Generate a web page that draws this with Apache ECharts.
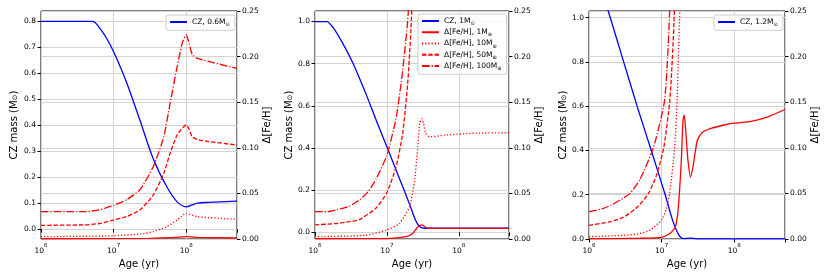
<!DOCTYPE html>
<html>
<head>
<meta charset="utf-8">
<script src="https://cdn.jsdelivr.net/npm/echarts@6/dist/echarts.min.js"></script>
<style>
html,body{margin:0;padding:0;background:#fff;}
#c{width:830px;height:277px;}
</style>
</head>
<body>
<div id="c"></div>
<script>
// ---------------- DATA (age in yr, value) ----------------
// Panel 1: 0.6 Msun
const p1_cz_age = [1e6, 5e6, 5.6e6, 6.4e6, 8e6, 1e7, 1.5e7, 2.3e7, 3.5e7, 5.4e7, 7.5e7, 1e8, 1.2e8, 1.43e8, 2e8, 5e8];
const p1_cz_val = [0.8, 0.8, 0.795, 0.775, 0.735, 0.683, 0.567, 0.42, 0.272, 0.163, 0.105, 0.086, 0.093, 0.100, 0.103, 0.108];
const p1_100_age = [1e6, 4e6, 6.4e6, 1e7, 1.5e7, 2.3e7, 3.5e7, 4.9e7, 6e7, 7.5e7, 8.8e7, 1e8, 1.1e8, 1.21e8, 1.43e8, 5e8];
const p1_100_val = [0.030, 0.030, 0.032, 0.037, 0.043, 0.054, 0.079, 0.112, 0.149, 0.189, 0.2146, 0.2237, 0.214, 0.202, 0.198, 0.187];
const p1_50_age = [1e6, 4e6, 6.4e6, 1e7, 1.5e7, 2.3e7, 3.5e7, 4.9e7, 6e7, 7.5e7, 1e8, 1.1e8, 1.21e8, 1.5e8, 5e8];
const p1_50_val = [0.015, 0.0155, 0.017, 0.0208, 0.0245, 0.0318, 0.048, 0.072, 0.094, 0.114, 0.125, 0.120, 0.112, 0.1085, 0.103];
const p1_10_age = [1e6, 1e7, 2.3e7, 3.5e7, 5.4e7, 7.5e7, 1e8, 1.43e8, 5e8];
const p1_10_val = [0.0025, 0.0035, 0.0055, 0.008, 0.0135, 0.0208, 0.028, 0.0245, 0.0216];
const p1_1_age = [1e6, 3e7, 6e7, 1e8, 1.5e8, 5e8];
const p1_1_val = [0.0003, 0.0006, 0.0015, 0.0025, 0.0018, 0.0011];

// Panel 2: 1 Msun
const p2_cz_age = [1e6, 1.45e6, 1.8e6, 2.4e6, 3.4e6, 5e6, 7.1e6, 1e7, 1.49e7, 2.05e7, 2.5e7, 2.8e7, 3.2e7, 3.6e7, 5e8];
const p2_cz_val = [1.0, 1.0, 0.97, 0.90, 0.80, 0.665, 0.532, 0.406, 0.256, 0.137, 0.058, 0.03, 0.02, 0.019, 0.019];
const p2_100_age = [1e6, 1.5e6, 2e6, 3e6, 4.2e6, 5.5e6, 7.1e6, 1e7, 1.34e7, 1.66e7, 1.95e7, 2.2e7];
const p2_100_val = [0.030, 0.030, 0.032, 0.036, 0.043, 0.052, 0.066, 0.092, 0.132, 0.185, 0.24, 0.31];
const p2_50_age = [1e6, 2e6, 3e6, 4.2e6, 7.1e6, 1e7, 1.34e7, 1.66e7, 1.95e7, 2.16e7, 2.3e7];
const p2_50_val = [0.0155, 0.017, 0.019, 0.0215, 0.034, 0.051, 0.079, 0.116, 0.171, 0.229, 0.28];
const p2_10_age = [1e6, 5e6, 1e7, 1.49e7, 2.05e7, 2.4e7, 2.67e7, 2.87e7, 3.06e7, 3.25e7, 3.47e7, 3.95e7, 6.6e7, 1.7e8, 5e8];
const p2_10_val = [0.0025, 0.004, 0.0099, 0.017, 0.035, 0.061, 0.0976, 0.127, 0.132, 0.126, 0.116, 0.112, 0.114, 0.116, 0.1165];
const p2_1_age = [1e6, 1e7, 1.85e7, 2.28e7, 2.67e7, 3.06e7, 3.47e7, 4e7, 5e8];
const p2_1_val = [0.0003, 0.0005, 0.0025, 0.006, 0.0128, 0.0154, 0.0128, 0.0118, 0.0117];

// Panel 3: 1.2 Msun
const p3_cz_age = [1e6, 1.84e6, 3e6, 4.6e6, 7.2e6, 1.12e7, 1.4e7, 1.6e7, 1.8e7, 2e7, 2.5e7, 3e7, 5e8];
const p3_cz_val = [1.30, 1.03, 0.80, 0.60, 0.40, 0.20, 0.09, 0.04, 0.01, 0.002, 0.004, 0.001, 0.001];
const p3_100_age = [1e6, 1.5e6, 2e6, 3e6, 3.67e6, 5e6, 7.7e6, 1.09e7, 1.21e7, 1.29e7, 1.4e7];
const p3_100_val = [0.030, 0.033, 0.037, 0.045, 0.05, 0.065, 0.10, 0.15, 0.20, 0.25, 0.32];
const p3_50_age = [1e6, 2e6, 3e6, 4.5e6, 6.6e6, 8.5e6, 1.07e7, 1.29e7, 1.41e7, 1.5e7, 1.6e7];
const p3_50_val = [0.015, 0.019, 0.024, 0.034, 0.05, 0.07, 0.10, 0.15, 0.20, 0.25, 0.31];
const p3_10_age = [1e6, 3e6, 5e6, 7e6, 1e7, 1.15e7, 1.29e7, 1.51e7, 1.63e7, 1.7e7, 1.78e7, 1.9e7];
const p3_10_val = [0.0026, 0.004, 0.006, 0.010, 0.021, 0.032, 0.05, 0.10, 0.15, 0.20, 0.25, 0.32];
const p3_1_age = [1e6, 5e6, 1e7, 1.3e7, 1.55e7, 1.7e7, 1.87e7, 1.97e7, 2.05e7, 2.16e7, 2.3e7, 2.5e7, 2.7e7, 3.1e7, 3.6e7, 4.7e7, 7.2e7, 1e8, 1.7e8, 2.9e8, 5e8];
const p3_1_val = [0.0003, 0.0008, 0.0018, 0.006, 0.0135, 0.035, 0.087, 0.13, 0.136, 0.116, 0.087, 0.068, 0.079, 0.108, 0.1166, 0.121, 0.125, 0.127, 0.129, 0.134, 0.142];

// Tick / label texts
const czNames = ['CZ, 0.6M⊙', 'CZ, 1M⊙', 'CZ, 1.2M⊙'];
const feNames = ['Δ[Fe/H], 1M⊕', 'Δ[Fe/H], 10M⊕', 'Δ[Fe/H], 50M⊕', 'Δ[Fe/H], 100M⊕'];
const leftRanges = [[-0.038, 0.84], [-0.032, 1.05], [0, 1.03]];
const rightRange = [0, 0.25];
const ageRange = [1e6, 5e8];

// ---------------- BUILD ----------------
const zip = (a, b) => a.map((x, i) => [x, b[i]]);
const panels = [
  {cz: zip(p1_cz_age, p1_cz_val), fe: [zip(p1_1_age, p1_1_val), zip(p1_10_age, p1_10_val), zip(p1_50_age, p1_50_val), zip(p1_100_age, p1_100_val)]},
  {cz: zip(p2_cz_age, p2_cz_val), fe: [zip(p2_1_age, p2_1_val), zip(p2_10_age, p2_10_val), zip(p2_50_age, p2_50_val), zip(p2_100_age, p2_100_val)]},
  {cz: zip(p3_cz_age, p3_cz_val), fe: [zip(p3_1_age, p3_1_val), zip(p3_10_age, p3_10_val), zip(p3_50_age, p3_50_val), zip(p3_100_age, p3_100_val)]}
];

const FONT = 'DejaVu Sans';
const gridPos = [{left: 41, width: 196}, {left: 315, width: 194}, {left: 589, width: 196}];
const leftNameGap = [22, 15, 19];
const leftSplit = [9, 5, 5];
const dashTypes = ['solid', [1.2, 2.0], [4.4, 1.9], [7.7, 1.9, 1.2, 1.9]];
const gridColor = '#d3d3d3';

const grids = [], xAxes = [], yAxes = [], series = [], legends = [];
const supRich = {
  b: {fontSize: 7.5, fontFamily: FONT, color: '#000', lineHeight: 12, verticalAlign: 'bottom'},
  s: {fontSize: 5.5, fontFamily: FONT, color: '#000', lineHeight: 7, verticalAlign: 'top'}
};
const subRich = (fs) => ({
  m: {fontSize: fs, fontFamily: FONT, color: '#000', lineHeight: fs + 3},
  sub: {fontSize: fs * 0.7, fontFamily: FONT, color: '#000', lineHeight: fs * 0.7, verticalAlign: 'bottom'}
});
const subFmt = (name) => '{m|' + name.slice(0, -1) + '}{sub|' + name.slice(-1) + '}';

panels.forEach((p, i) => {
  grids.push({left: gridPos[i].left, width: gridPos[i].width, top: 11, height: 228, show: true, borderColor: '#000', borderWidth: 1, backgroundColor: 'transparent'});
  xAxes.push({
    type: 'log', logBase: 10, gridIndex: i, min: ageRange[0], max: ageRange[1],
    name: 'Age (yr)', nameLocation: 'middle', nameGap: 16,
    nameTextStyle: {fontFamily: FONT, fontSize: 10, color: '#000'},
    axisLine: {show: false},
    axisTick: {show: true, length: 3.5, lineStyle: {color: '#000'}},
    splitLine: {show: true, lineStyle: {color: gridColor, width: 1}},
    axisLabel: {
      margin: 4, rich: supRich,
      formatter: (v) => {
        const e = Math.log10(v);
        if (Math.abs(e - Math.round(e)) < 1e-6) return '{b|10}{s|' + Math.round(e) + '}';
        return '';
      }
    }
  });
  yAxes.push({
    type: 'value', gridIndex: i, position: 'left', min: leftRanges[i][0], max: leftRanges[i][1], splitNumber: leftSplit[i],
    name: 'CZ mass (M{sub|⊙})', nameLocation: 'middle', nameGap: leftNameGap[i], nameRotate: 90,
    nameTextStyle: {fontFamily: FONT, fontSize: 10, color: '#000', rich: {sub: {fontSize: 7, fontFamily: FONT, verticalAlign: 'bottom', lineHeight: 7}}},
    axisLine: {show: false},
    axisTick: {show: true, length: 3.5, lineStyle: {color: '#000'}},
    splitLine: {show: true, lineStyle: {color: gridColor, width: 1}},
    axisLabel: {margin: 5, fontFamily: FONT, fontSize: 7.5, color: '#000',
      showMinLabel: leftRanges[i][0] === 0, showMaxLabel: false,
      formatter: (v) => v.toFixed(1)}
  });
  yAxes.push({
    type: 'value', gridIndex: i, position: 'right', min: rightRange[0], max: rightRange[1], interval: 0.05,
    name: 'Δ[Fe/H]', nameLocation: 'middle', nameGap: 24, nameRotate: 90,
    nameTextStyle: {fontFamily: FONT, fontSize: 10, color: '#000'},
    axisLine: {show: false},
    axisTick: {show: true, length: 3.5, lineStyle: {color: '#000'}},
    splitLine: {show: true, lineStyle: {color: gridColor, width: 1}},
    axisLabel: {margin: 5, fontFamily: FONT, fontSize: 7.5, color: '#000', formatter: (v) => v.toFixed(2)}
  });
  series.push({
    type: 'line', name: czNames[i], xAxisIndex: i, yAxisIndex: 2 * i, data: p.cz,
    symbol: 'none', smooth: 0.3, lineStyle: {color: '#0000ff', width: 1.3}, itemStyle: {color: '#0000ff'}, z: 2
  });
  p.fe.forEach((d, k) => {
    series.push({
      type: 'line', name: i === 1 ? feNames[k] : ('p' + i + '_' + k), xAxisIndex: i, yAxisIndex: 2 * i + 1, data: d,
      symbol: 'none', smooth: 0.2, clip: true,
      lineStyle: {color: '#ff0000', width: 1.3, type: dashTypes[k]}, itemStyle: {color: '#ff0000'}, z: 3
    });
  });
});

const legendBase = {
  orient: 'vertical', selectedMode: false, itemWidth: 17, itemHeight: 8, itemGap: 2,
  backgroundColor: 'rgba(255,255,255,0.85)', borderColor: '#cccccc', borderWidth: 1, borderRadius: 2,
  padding: [3, 5, 3, 3], textStyle: {rich: subRich(7.5)}, formatter: subFmt,
  itemStyle: {color: 'rgba(0,0,0,0)', borderColor: 'rgba(0,0,0,0)', borderWidth: 0, opacity: 0}
};
legends.push(Object.assign({}, legendBase, {left: 166, top: 15, data: [czNames[0]]}));
legends.push(Object.assign({}, legendBase, {left: 418, top: 14, data: [czNames[1]].concat(feNames)}));
legends.push(Object.assign({}, legendBase, {left: 714, top: 15, data: [czNames[2]]}));

const chart = echarts.init(document.getElementById('c'), null, {renderer: 'canvas'});
chart.setOption({
  animation: false,
  backgroundColor: '#fff',
  grid: grids, xAxis: xAxes, yAxis: yAxes, series: series, legend: legends
});
</script>
</body>
</html>
